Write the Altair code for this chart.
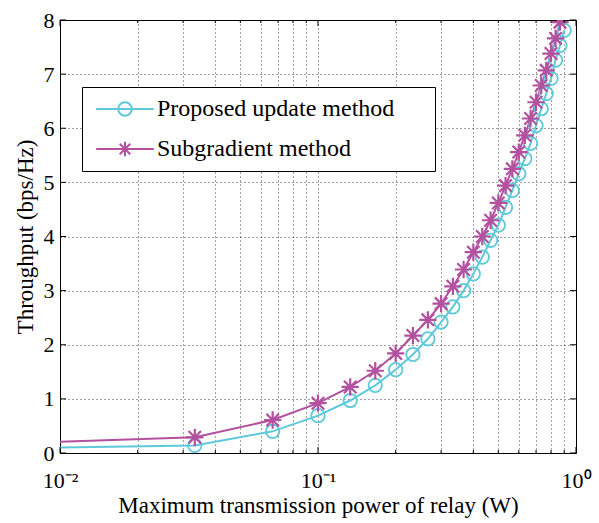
import altair as alt
import pandas as pd

# ---- data ----
x_power = [0.0005, 0.0333, 0.0667, 0.1000, 0.1333, 0.1667, 0.2000, 0.2333, 0.2667,
           0.3000, 0.3333, 0.3667, 0.4000, 0.4333, 0.4667, 0.5000, 0.5333, 0.5667,
           0.6000, 0.6333, 0.6667, 0.7000, 0.7333, 0.7667, 0.8000, 0.8333, 0.8667, 0.9000]
proposed = [0.0, 0.14, 0.40, 0.69, 0.97, 1.25, 1.54, 1.82, 2.11, 2.42, 2.70, 3.00, 3.31,
            3.62, 3.93, 4.21, 4.54, 4.85, 5.16, 5.44, 5.72, 6.05, 6.36, 6.64, 6.92, 7.26,
            7.53, 7.81]
subgradient = [0.0, 0.29, 0.61, 0.92, 1.22, 1.52, 1.84, 2.17, 2.46, 2.76, 3.08, 3.39, 3.71,
               4.00, 4.30, 4.62, 4.94, 5.25, 5.56, 5.87, 6.18, 6.48, 6.79, 7.07, 7.38, 7.66,
               7.96, 8.27]
series_names = ["Proposed update method", "Subgradient method"]
series_colors = ["#5DC9DA", "#B3509F"]

x_major = [0.01, 0.1, 1]
x_minor = [0.02, 0.03, 0.04, 0.05, 0.06, 0.07, 0.08, 0.09,
           0.2, 0.3, 0.4, 0.5, 0.6, 0.7, 0.8, 0.9]
y_ticks = [0, 1, 2, 3, 4, 5, 6, 7, 8]

W, H = 516, 433
FONT = "Liberation Serif"

df = pd.concat([
    pd.DataFrame({"x": x_power, "y": proposed, "series": series_names[0]}),
    pd.DataFrame({"x": x_power, "y": subgradient, "series": series_names[1]}),
], ignore_index=True)

STAR = "M0,-1L0,1M-1,0L1,0M-0.72,-0.72L0.72,0.72M-0.72,0.72L0.72,-0.72"
LEG_CIRCLE = ("M-3.6,0L3.6,0M0.85,0A0.85,0.85,0,1,1,-0.85,0"
              "A0.85,0.85,0,1,1,0.85,0")
LEG_STAR = ("M-3.6,0L3.6,0M0,-0.9L0,0.9M-0.66,-0.66L0.66,0.66"
            "M-0.66,0.66L0.66,-0.66")

label_expr = ("datum.value == 0.01 ? '10\u207b\u00b2' : (datum.value == 0.1 ? "
              "'10\u207b\u00b9' : (datum.value == 1 ? '10\u2070' : ''))")

leg = alt.Legend(orient="none", legendX=22, legendY=67, title=None,
                 strokeColor="black", fillColor="white", padding=10,
                 symbolOffset=21, labelOffset=20, symbolSize=256,
                 symbolStrokeWidth=2, symbolOpacity=1, labelLimit=500,
                 labelFont=FONT, labelFontSize=24, labelColor="black",
                 rowPadding=16,
                 labelExpr="datum.label + '" + "\u00a0" * 5 + "\u200b'")

X = alt.X("x:Q",
          scale=alt.Scale(type="log", domain=[0.01, 1], nice=False),
          axis=alt.Axis(values=x_major + x_minor, labelExpr=label_expr, grid=True,
                        ticks=False, domain=False, labelOverlap=False, labelFlush=False,
                        title="Maximum transmission power of relay (W)",
                        labelPadding=17, titlePadding=3))
Y = alt.Y("y:Q",
          scale=alt.Scale(domain=[0, 8], nice=False, zero=True),
          axis=alt.Axis(values=y_ticks, format="d", grid=True, ticks=False,
                        domain=False, title="Throughput (bps/Hz)",
                        labelPadding=6, titlePadding=6))
COLOR = alt.Color("series:N",
                  scale=alt.Scale(domain=series_names, range=series_colors),
                  legend=leg)
SHAPE = alt.Shape("series:N",
                  scale=alt.Scale(domain=series_names, range=[LEG_CIRCLE, LEG_STAR]),
                  legend=leg)

lines = alt.Chart(df).mark_line(strokeWidth=2, clip=True).encode(
    x=X, y=Y, color=COLOR, detail="series:N")

circles = alt.Chart(df).transform_filter(
    (alt.datum.series == series_names[0]) & (alt.datum.x > 0.005)
).mark_point(shape="circle", filled=False, size=180, strokeWidth=1.8,
             opacity=1, clip=True).encode(x="x:Q", y="y:Q", color=COLOR)

stars = alt.Chart(df).transform_filter(
    (alt.datum.series == series_names[1]) & (alt.datum.x > 0.005)
).mark_point(shape=STAR, filled=False, size=300, strokeWidth=2.2,
             opacity=1, clip=True).encode(x="x:Q", y="y:Q", color=COLOR)

legend_layer = alt.Chart(df).transform_filter(alt.datum.x > 0.005).mark_point(
    filled=False, opacity=0, clip=True).encode(
    x="x:Q", y="y:Q", color=COLOR, shape=SHAPE)

ytdf = pd.DataFrame({"y": y_ticks})
xmaj_df = pd.DataFrame({"x": x_major})
xmin_df = pd.DataFrame({"x": x_minor})
tick_style = dict(color="black", strokeWidth=1)

ticks = [
    alt.Chart(ytdf).mark_rule(**tick_style).encode(y="y:Q", x=alt.value(0), x2=alt.value(6)),
    alt.Chart(ytdf).mark_rule(**tick_style).encode(y="y:Q", x=alt.value(W - 6), x2=alt.value(W)),
    alt.Chart(xmaj_df).mark_rule(**tick_style).encode(x="x:Q", y=alt.value(H - 6), y2=alt.value(H)),
    alt.Chart(xmaj_df).mark_rule(**tick_style).encode(x="x:Q", y=alt.value(0), y2=alt.value(6)),
    alt.Chart(xmin_df).mark_rule(**tick_style).encode(x="x:Q", y=alt.value(H - 3), y2=alt.value(H)),
    alt.Chart(xmin_df).mark_rule(**tick_style).encode(x="x:Q", y=alt.value(0), y2=alt.value(3)),
]

chart = alt.layer(lines, circles, stars, legend_layer, *ticks).properties(
    width=W, height=H,
    autosize=alt.AutoSizeParams(type="none"),
    padding={"left": 60, "top": 20, "right": 23, "bottom": 70},
    background="white",
).configure_view(
    stroke="black", strokeWidth=1
).configure_axis(
    labelFont=FONT, labelFontSize=22, labelColor="black",
    titleFont=FONT, titleFontSize=23, titleColor="black", titleFontWeight="normal",
    gridColor="black", gridDash=[1, 3], gridWidth=1, gridOpacity=0.75,
)

chart.save("out.html", embed_options={"renderer": "svg", "actions": False})
